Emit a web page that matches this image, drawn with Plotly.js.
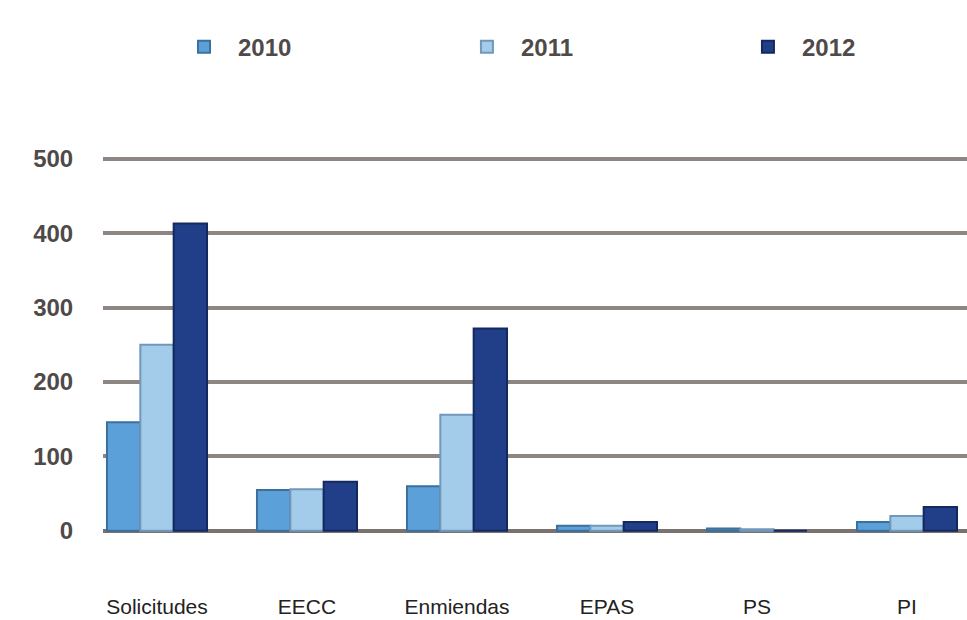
<!DOCTYPE html>
<html><head><meta charset="utf-8">
<script src="https://cdn.plot.ly/plotly-3.0.1.min.js"></script>
<style>html,body{margin:0;padding:0;background:#fff}#chart{width:967px;height:620px}</style>
</head><body><div id="chart"></div>
<script>
const categories = ['Solicitudes','EECC','Enmiendas','EPAS','PS','PI'];
const years = ['2010','2011','2012'];
const values2010 = [146, 55, 60, 7, 3, 12];
const values2011 = [250, 56, 156, 7, 2, 20];
const values2012 = [413, 66, 272, 12, 0, 32];
const yTicks = [0, 100, 200, 300, 400, 500];

const fills = ['#5ba0d9', '#a3cbea', '#213f88'];
const edges = ['#3d6f9c', '#7198bb', '#142a5e'];
const legendIds = ['legend', 'legend2', 'legend3'];
const legendX = [0.1758, 0.4684, 0.759];
const series = [values2010, values2011, values2012];
const traces = series.map((v, i) => ({
  type: 'bar', name: years[i], x: categories, y: v, legend: legendIds[i],
  marker: {color: fills[i], line: {color: edges[i], width: 2}}
}));

const legendFont = {family: 'Liberation Sans', size: 24, weight: 'bold', color: '#4f4a49'};
const layout = {
  width: 967, height: 620,
  margin: {l: 103, r: 0, t: 144, b: 78},
  paper_bgcolor: '#fff', plot_bgcolor: '#fff',
  barmode: 'group', bargap: 0.333, bargroupgap: 0,
  showlegend: true,
  xaxis: {range: [-0.36, 5.4], showgrid: false, zeroline: false, showline: false,
    ticks: 'outside', ticklen: 46, tickcolor: 'rgba(0,0,0,0)',
    tickfont: {family: 'Liberation Sans', size: 21, color: '#222'}},
  yaxis: {range: [-15, 520], tickvals: yTicks, ticktext: yTicks.map(String),
    showgrid: true, gridcolor: '#8e8683', gridwidth: 4,
    zeroline: true, zerolinecolor: '#7a7270', zerolinewidth: 4, showline: false,
    ticks: 'outside', ticklen: 24, tickcolor: 'rgba(0,0,0,0)',
    tickfont: {family: 'Liberation Sans', size: 24, weight: 'bold', color: '#4f4a49'}},
  font: {family: 'Liberation Sans'}
};
legendIds.forEach((id, i) => {
  layout[id] = {orientation: 'h', xref: 'container', yref: 'container',
    x: legendX[i], y: 0.924, xanchor: 'left', yanchor: 'middle',
    itemwidth: 58, font: legendFont, bgcolor: 'rgba(0,0,0,0)'};
});
Plotly.newPlot('chart', traces, layout, {displayModeBar: false, staticPlot: true});
</script></body></html>
